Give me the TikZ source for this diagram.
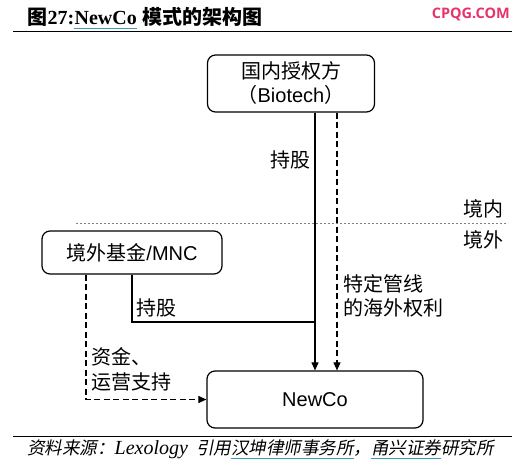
\documentclass[tikz,border=0pt]{standalone}
\usepackage{fontspec}
\setmainfont{Liberation Sans}
\newfontfamily\cjk{Noto Sans CJK SC}
\newfontfamily\cjkslant[FakeSlant=0.2]{Noto Sans CJK SC}
\newfontfamily\titleserif{Liberation Serif}
\newfontfamily\webfont{Open Sans}
\usepackage{tikz}
\usetikzlibrary{arrows.meta, positioning}
\tikzset{every node/.style={font=\fontsize{20}{24}\selectfont}}
\usepackage{xcolor}
\definecolor{linkteal}{HTML}{3A9FB4}
\definecolor{sitered}{HTML}{E6336B}
\newsavebox\ulbox
\newcommand\linkul[1]{\sbox\ulbox{#1}\leavevmode\rlap{\color{linkteal}\rule[-4.5pt]{\wd\ulbox}{1.4pt}}\usebox\ulbox}

\begin{document}
\begin{tikzpicture}[x=1pt, y=-1pt,
    partybox/.style={draw, line width=1.2pt, rounded corners=8pt, inner sep=0pt, align=center},
    holdline/.style={line width=1.1pt, -{Triangle[length=8pt,width=7pt]}},
    rightsline/.style={holdline, dash pattern=on 6pt off 3.5pt},
    tagtext/.style={font=\fontsize{20}{24.5}\selectfont\cjk, align=left, inner sep=0pt},
    headtext/.style={anchor=base west, inner sep=0pt, font=\fontsize{20}{24}\selectfont\bfseries}]
  \useasboundingbox (0,0) rectangle (520,468);
  % heading
  \node[headtext] (titlefig) at (27,24.5) {\cjk 图};
  \node[headtext] (titlenum) at (titlefig.base east) {\titleserif 27:};
  \node[headtext] (titleco) at (titlenum.base east) {\titleserif NewCo};
  \node[headtext] (titlerest) at ([xshift=5pt]titleco.base east) {\cjk 模式的架构图};
  \draw[linkteal, line width=1.4pt] ([yshift=-3.8pt]titleco.base west) -- ([yshift=-3.8pt]titleco.base east);
  \node[anchor=base east, inner sep=0pt, text=sitered, font=\fontsize{14.5}{16}\selectfont\webfont\bfseries] (site) at (510,19) {CPQG.COM};
  \draw[line width=1pt] (13,32) -- (512,32);
  % parties
  \node[partybox, minimum width=167pt, minimum height=57pt] (biotech) at (291,83.5)
    {{\cjk 国内授权方}\\{\cjk （}Biotech{\cjk ）}};
  \node[partybox, minimum width=180pt, minimum height=43pt] (fund) at (132,252.5) {{\cjk 境外基金}/MNC};
  \node[partybox, minimum width=216pt, minimum height=57pt] (newco) at (315,399.5) {NewCo};
  % border line
  \draw[gray, line width=0.8pt, dash pattern=on 2pt off 2pt] (76,223) -- (507,223);
  \node[tagtext, anchor=east] (inland) at (504,209) {境内};
  \node[tagtext, anchor=east] (abroad) at (504,240) {境外};
  % links
  \coordinate (merge) at (315,322);
  \draw[holdline] (biotech.south -| newco.north) -- (newco.north);
  \draw[rightsline] ([xshift=22pt]newco.north |- biotech.south) -- ([xshift=22pt]newco.north);
  \draw[line width=1.1pt] (fund.south) |- (merge);
  \draw[rightsline] ([xshift=-46pt]fund.south) |- (newco.west);
  \node[tagtext, anchor=east] (holdtop) at (311,160) {持股};
  \node[tagtext, anchor=west] (holdlow) at (136,308) {持股};
  \node[tagtext, anchor=west] (pipeline) at (343,296) {特定管线\\的海外权利};
  \node[tagtext, anchor=west] (support) at (91,369.5) {资金、\\运营支持};
  % source
  \draw[line width=1pt] (13,436) -- (512,436);
  \node[anchor=base west, inner sep=0pt, font=\fontsize{17.5}{20}\selectfont] (source) at (27,454.5)
    {\cjkslant 资料来源：{\titleserif\itshape\fontsize{20}{20}\selectfont Lexology}\hspace{8pt}引用\linkul{汉坤律师事务所}，\linkul{甬兴证券}研究所};
\end{tikzpicture}
\end{document}
